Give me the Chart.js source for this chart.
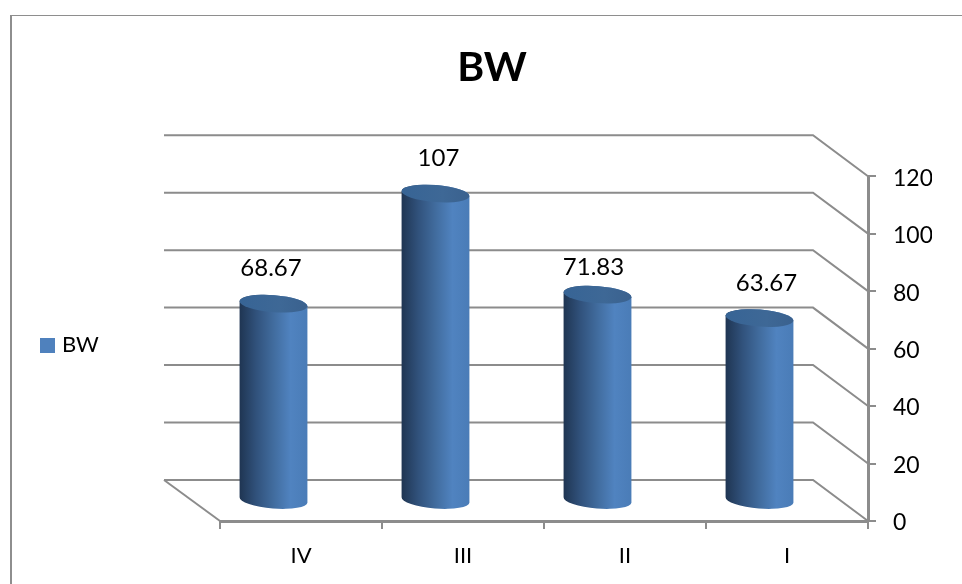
<!DOCTYPE html>
<html>
<head>
<meta charset="utf-8">
<title>BW</title>
<script src="https://cdn.jsdelivr.net/npm/chart.js@4"></script>
<style>
  html, body { margin: 0; height: 100%; overflow: hidden; background: #fff; }
  #frame { position: absolute; left: 10px; top: 15px; width: 1000px; height: 800px;
           border-left: 2px solid #8e8e8e; border-top: 1px solid #8e8e8e; }
  #g1 { position: absolute; left: 0; top: 0; }
</style>
</head>
<body>
<div id="frame"></div>
<canvas id="g1" width="984" height="584"></canvas>
<script>
// categories and values
var kategori = ['IV', 'III', 'II', 'I'];
var nilai = [68.67, 107, 71.83, 63.67];
var namaSeri = 'BW';

// axis range
var yMin = 0;
var yMax = 120;
var yStep = 20;

// perspective: how far the back wall sits from the front axes
var depthX = 55;
var depthY = 41;
var floorSkew = 56;

// cylinders stand between the back wall and the front edge
var barDx = -27.5;
var barDy = -20;
var capRy = 8.5;
var capTilt = 0.078;

var labelGap = 35;
var labelDx = [-2.5, 3, -4, 7];
var labelDy = [0, 0, 8, 0];

var warnaGaris = '#8c8c8c';
var warnaTeks = '#000';
var font = 'Lato';

function bodyGradient(ctx, left, right) {
    var g = ctx.createLinearGradient(left, 0, right, 0);
    g.addColorStop(0, '#1f3552');
    g.addColorStop(0.25, '#31527c');
    g.addColorStop(0.5, '#416c9e');
    g.addColorStop(0.75, '#5083c0');
    g.addColorStop(1, '#4a7cb7');
    return g;
}

function capGradient(ctx, left, right) {
    var g = ctx.createLinearGradient(left, 0, right, 0);
    g.addColorStop(0, '#376495');
    g.addColorStop(0.6, '#3e6896');
    g.addColorStop(1, '#3a618e');
    return g;
}

// title is centred on the whole canvas, not on the plot
var titlePlugin = {
    id: 'judulTengah',
    afterLayout: function(chart) {
        var shift = (chart.titleBlock.left + chart.titleBlock.right) / 2 - chart.width / 2;
        chart.titleBlock.left -= shift;
        chart.titleBlock.right -= shift;
    }
};

// back wall lines and the floor, behind the bars
var wallPlugin = {
    id: 'wall',
    beforeDatasetsDraw: function(chart) {
        var ctx = chart.ctx;
        var area = chart.chartArea;
        var y = chart.scales.y;
        var backLeft = area.left - floorSkew;
        var backRight = area.right - depthX;

        ctx.save();
        ctx.strokeStyle = warnaGaris;
        ctx.lineWidth = 2;
        y.ticks.forEach(function(t) {
            var py = y.getPixelForValue(t.value);
            ctx.beginPath();
            ctx.moveTo(backLeft, py - depthY);
            ctx.lineTo(backRight, py - depthY);
            ctx.lineTo(area.right, py);
            ctx.stroke();
        });
        ctx.beginPath();
        ctx.moveTo(backLeft, area.bottom - depthY);
        ctx.lineTo(area.left, area.bottom);
        ctx.stroke();
        ctx.restore();
    }
};

// the bars come out of the library as plain rectangles, here they get the cylinder shape
var cylinderPlugin = {
    id: 'cylinder',
    afterDatasetsDraw: function(chart) {
        var ctx = chart.ctx;
        var meta = chart.getDatasetMeta(0);

        meta.data.forEach(function(bar, i) {
            var cx = bar.x + barDx;
            var rx = bar.width / 2;
            var topY = bar.y + barDy;
            var baseY = bar.base + barDy;
            var left = cx - rx;
            var right = cx + rx;

            ctx.save();
            ctx.beginPath();
            ctx.ellipse(cx, baseY, rx, capRy, capTilt, Math.PI, 0, true);
            ctx.ellipse(cx, topY, rx, capRy, capTilt, 0, Math.PI, true);
            ctx.closePath();
            ctx.fillStyle = bodyGradient(ctx, left, right);
            ctx.fill();

            ctx.beginPath();
            ctx.ellipse(cx, topY, rx, capRy, capTilt, 0, Math.PI * 2);
            ctx.fillStyle = capGradient(ctx, left, right);
            ctx.fill();

            // value above the cylinder
            ctx.fillStyle = warnaTeks;
            ctx.font = '24px ' + font;
            ctx.textAlign = 'center';
            ctx.textBaseline = 'middle';
            ctx.fillText(String(nilai[i]), cx + labelDx[i], topY - labelGap + labelDy[i]);
            ctx.restore();
        });
    }
};

// small legend on the left
var legendPlugin = {
    id: 'legendKiri',
    afterDraw: function(chart) {
        var ctx = chart.ctx;
        ctx.save();
        ctx.fillStyle = '#4f81bd';
        ctx.fillRect(40, 338, 15, 15);
        ctx.fillStyle = warnaTeks;
        ctx.font = '22px ' + font;
        ctx.textAlign = 'left';
        ctx.textBaseline = 'middle';
        ctx.fillText(namaSeri, 62, 345);
        ctx.restore();
    }
};

// y labels sit a little under their tick marks
function geserLabelY(scale) {
    scale.width = 64;
    if (scale.labelDigeser) return;
    scale.labelDigeser = true;
    var drawLabels = scale.drawLabels;
    scale.drawLabels = function(area) {
        this.ctx.save();
        this.ctx.translate(0, 2);
        drawLabels.call(this, area);
        this.ctx.restore();
    };
}

var ctx_1 = document.getElementById('g1');

var myChart = new Chart(ctx_1, {
    type: 'bar',
    data: {
        labels: kategori,
        datasets: [{
            label: namaSeri,
            data: nilai,
            backgroundColor: 'rgba(0, 0, 0, 0)',
            borderWidth: 0,
            categoryPercentage: 1,
            barPercentage: 0.42
        }]
    },
    options: {
        responsive: false,
        animation: false,
        layout: { padding: { left: 220, right: 52, top: 0, bottom: 0 } },
        plugins: {
            legend: { display: false },
            tooltip: { enabled: false },
            title: {
                display: true,
                text: 'BW',
                color: warnaTeks,
                fullSize: false,
                font: { family: font, size: 41, weight: 'bold', lineHeight: 1.2 },
                padding: { top: 43, bottom: 84 }
            }
        },
        scales: {
            x: {
                afterFit: function(s) { s.height = 63; },
                grid: { drawOnChartArea: false, color: warnaGaris, lineWidth: 2, tickLength: 8 },
                border: { color: warnaGaris, width: 3 },
                ticks: {
                    color: warnaTeks,
                    padding: 14,
                    maxRotation: 0,
                    font: { family: font, size: 22 }
                }
            },
            y: {
                position: 'right',
                min: yMin,
                max: yMax,
                afterFit: geserLabelY,
                grid: { drawOnChartArea: false, color: warnaGaris, lineWidth: 2, tickLength: 8 },
                border: { color: warnaGaris, width: 3 },
                ticks: {
                    stepSize: yStep,
                    color: warnaTeks,
                    padding: 17,
                    font: { family: font, size: 23 }
                }
            }
        }
    },
    plugins: [titlePlugin, wallPlugin, cylinderPlugin, legendPlugin]
});
</script>
</body>
</html>
